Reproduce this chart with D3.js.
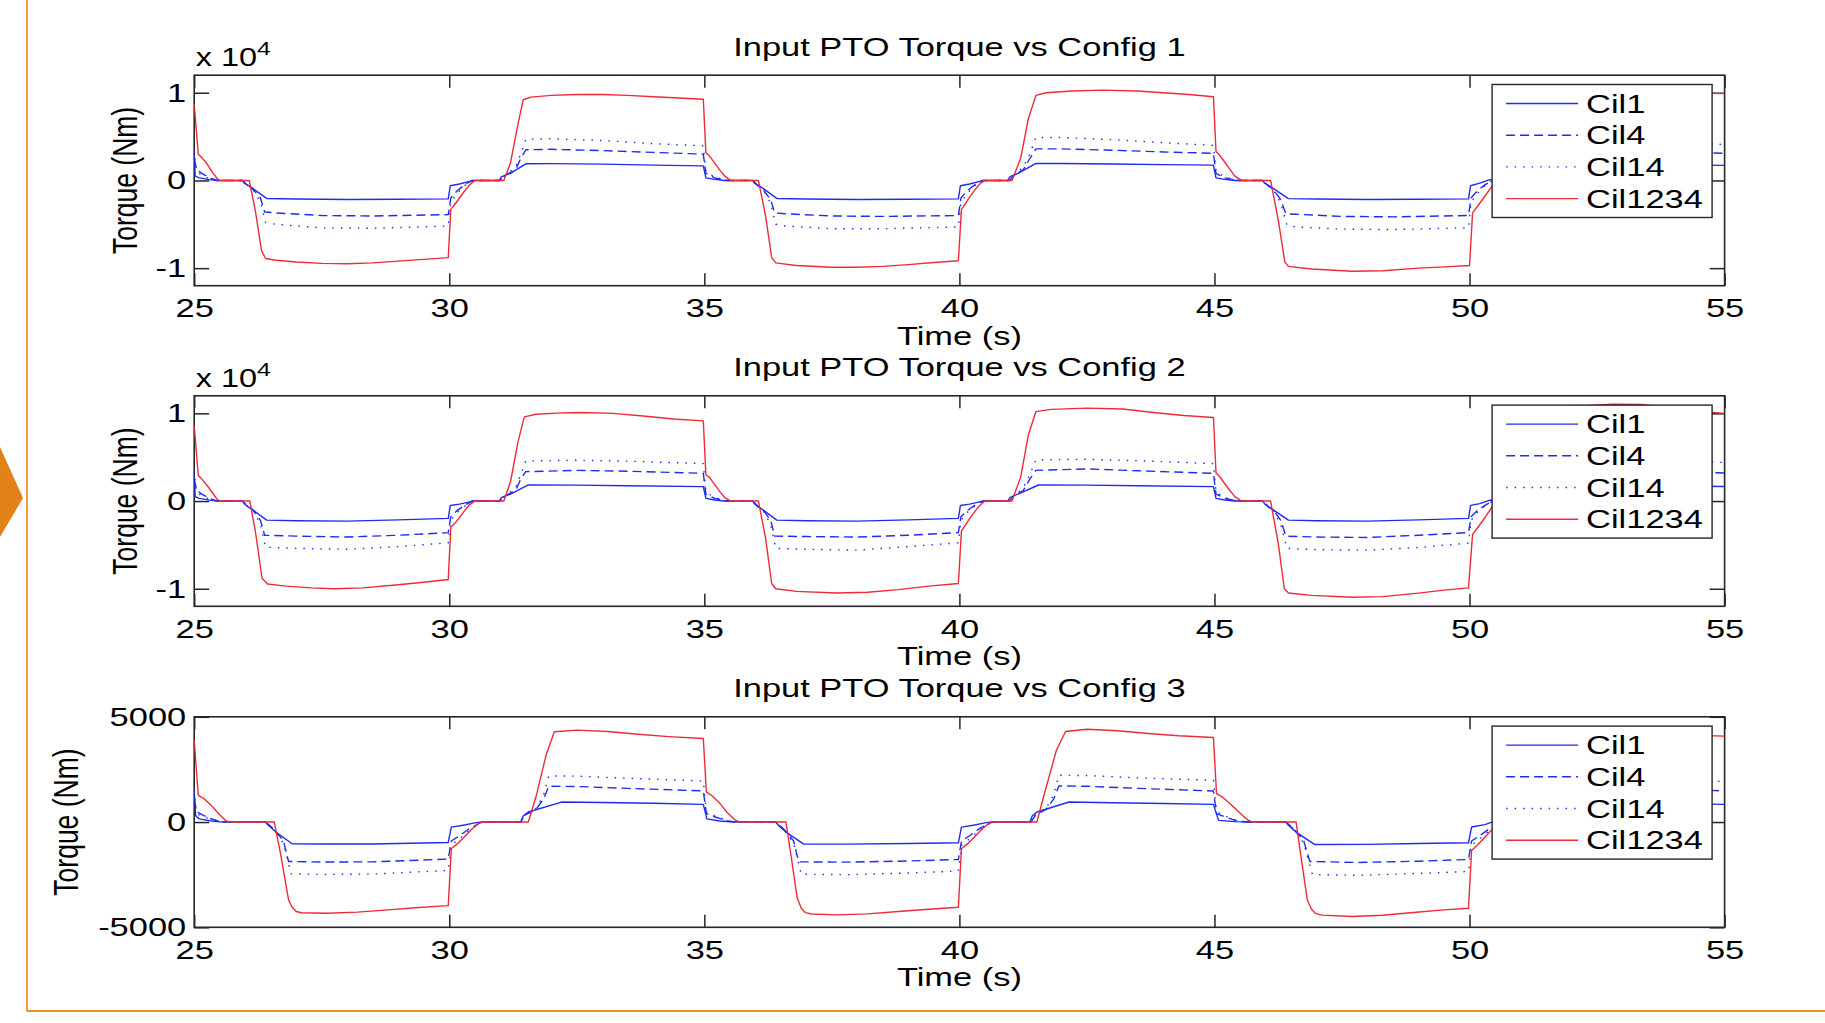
<!DOCTYPE html>
<html lang="en">
<head>
<meta charset="UTF-8">
<title>Input PTO Torque vs Config</title>
<script src="https://cdn.jsdelivr.net/npm/d3@7"></script>
<style>
  html, body { margin: 0; padding: 0; background: #fff; }
  svg { display: block; font-family: "Liberation Sans", Arial, Helvetica, sans-serif; }
</style>
</head>
<body>
<svg id="chart" width="1825" height="1023"></svg>
<script>
// ---- data: [time (s), torque] ----
const xTicks = [25, 30, 35, 40, 45, 50, 55];
const yTicksE4 = [-1, 0, 1];          // x 10^4 Nm
const yTicksNm = [-5000, 0, 5000];
const seriesNames = ["Cil1", "Cil4", "Cil14", "Cil1234"];
const titles = ["Input PTO Torque vs Config 1", "Input PTO Torque vs Config 2", "Input PTO Torque vs Config 3"];

// Config 1 (x 10^4 Nm)
const c1Cil1 = [[25.0,0.30],[25.02,0.05],[25.1,0.03],[25.3,0.01],[25.45,0],[25.95,0],[25.98,-0.03],[26.04,-0.05],[26.1,-0.07],[26.42,-0.205],[27.0,-0.212],[28.0,-0.218],[29.0,-0.215],[29.98,-0.21],[30.02,-0.06],[30.2,-0.04],[30.4,-0.01],[30.5,0],[30.98,0],[31.02,0.04],[31.1,0.06],[31.2,0.08],[31.5,0.19],[32.0,0.192],[33.0,0.186],[34.0,0.175],[34.98,0.166],[35.03,0.03],[35.2,0.012],[35.4,0],[35.95,0],[35.98,-0.03],[36.04,-0.05],[36.1,-0.07],[36.42,-0.205],[37.0,-0.212],[38.0,-0.218],[39.0,-0.215],[39.98,-0.21],[40.02,-0.06],[40.2,-0.04],[40.4,-0.01],[40.5,0],[40.95,0],[40.99,0.04],[41.06,0.06],[41.15,0.08],[41.5,0.194],[42.0,0.194],[43.0,0.187],[44.0,0.18],[44.98,0.175],[45.03,0.03],[45.2,0.012],[45.4,0],[45.95,0],[45.98,-0.03],[46.04,-0.05],[46.1,-0.07],[46.45,-0.207],[47.0,-0.212],[48.0,-0.218],[49.0,-0.215],[49.98,-0.21],[50.02,-0.06],[50.2,-0.03],[50.4,0.01],[50.5,0],[51.0,0],[51.04,0.04],[51.1,0.06],[51.2,0.08],[51.5,0.19],[52.0,0.19],[53.0,0.185],[54.0,0.178],[55.0,0.172]];
const c1Cil4 = [[25.0,0.25],[25.05,0.12],[25.15,0.08],[25.3,0.03],[25.45,0],[25.95,0],[26.05,-0.06],[26.15,-0.1],[26.3,-0.2],[26.38,-0.36],[26.6,-0.37],[27.5,-0.40],[28.5,-0.405],[29.98,-0.39],[30.03,-0.2],[30.15,-0.12],[30.3,-0.05],[30.45,0],[31.0,0],[31.1,0.06],[31.3,0.12],[31.4,0.25],[31.5,0.35],[32.0,0.355],[33.0,0.34],[34.0,0.32],[34.98,0.30],[35.03,0.08],[35.2,0.03],[35.45,0],[35.95,0],[36.05,-0.06],[36.15,-0.1],[36.3,-0.22],[36.38,-0.37],[36.6,-0.38],[37.5,-0.405],[38.5,-0.41],[39.98,-0.40],[40.03,-0.2],[40.15,-0.12],[40.3,-0.05],[40.45,0],[40.98,0],[41.08,0.06],[41.25,0.12],[41.38,0.25],[41.5,0.36],[42.0,0.36],[43.0,0.345],[44.0,0.325],[44.98,0.31],[45.03,0.08],[45.2,0.03],[45.45,0],[45.95,0],[46.05,-0.06],[46.15,-0.1],[46.3,-0.22],[46.4,-0.38],[46.6,-0.385],[47.5,-0.41],[48.5,-0.415],[49.98,-0.40],[50.03,-0.2],[50.15,-0.12],[50.3,-0.05],[50.45,0],[51.0,0],[51.1,0.06],[51.3,0.12],[51.4,0.25],[51.5,0.36],[52.0,0.36],[53.0,0.345],[54.0,0.325],[55.0,0.31]];
const c1Cil14 = [[25.0,0.35],[25.04,0.1],[25.15,0.06],[25.3,0.02],[25.45,0],[25.95,0],[26.05,-0.06],[26.15,-0.1],[26.3,-0.25],[26.4,-0.48],[26.6,-0.50],[27.5,-0.54],[28.5,-0.545],[29.98,-0.52],[30.03,-0.25],[30.15,-0.15],[30.3,-0.06],[30.45,0],[31.0,0],[31.1,0.06],[31.3,0.15],[31.4,0.3],[31.5,0.47],[32.0,0.475],[33.0,0.455],[34.0,0.42],[34.98,0.395],[35.03,0.1],[35.2,0.04],[35.45,0],[35.95,0],[36.05,-0.06],[36.15,-0.1],[36.3,-0.26],[36.4,-0.50],[36.6,-0.52],[37.5,-0.55],[38.5,-0.55],[39.98,-0.53],[40.03,-0.25],[40.15,-0.15],[40.3,-0.06],[40.45,0],[40.98,0],[41.08,0.06],[41.25,0.15],[41.38,0.3],[41.5,0.49],[42.0,0.49],[43.0,0.465],[44.0,0.43],[44.98,0.40],[45.03,0.1],[45.2,0.04],[45.45,0],[45.95,0],[46.05,-0.06],[46.15,-0.1],[46.3,-0.26],[46.42,-0.51],[46.6,-0.53],[47.5,-0.555],[48.5,-0.56],[49.98,-0.54],[50.03,-0.25],[50.15,-0.15],[50.3,-0.06],[50.45,0],[51.0,0],[51.1,0.06],[51.3,0.15],[51.4,0.3],[51.5,0.48],[52.0,0.48],[53.0,0.46],[54.0,0.43],[55.0,0.41]];
const c1Cil1234 = [[25.0,0.87],[25.08,0.30],[25.15,0.26],[25.25,0.19],[25.35,0.10],[25.45,0.02],[25.5,0],[26.08,0],[26.2,-0.35],[26.32,-0.80],[26.4,-0.89],[26.6,-0.91],[27.0,-0.93],[27.5,-0.945],[28.0,-0.95],[28.5,-0.94],[29.0,-0.92],[29.5,-0.90],[29.98,-0.88],[30.03,-0.33],[30.1,-0.28],[30.2,-0.20],[30.3,-0.12],[30.4,-0.05],[30.5,0],[31.07,0],[31.2,0.2],[31.35,0.65],[31.45,0.92],[31.6,0.95],[32.0,0.97],[32.5,0.98],[33.0,0.98],[33.5,0.97],[34.0,0.955],[34.5,0.94],[34.98,0.925],[35.03,0.32],[35.1,0.28],[35.2,0.20],[35.3,0.12],[35.4,0.05],[35.52,0],[36.06,0],[36.2,-0.40],[36.32,-0.88],[36.4,-0.94],[36.8,-0.97],[37.5,-0.99],[38.0,-0.99],[38.5,-0.98],[39.0,-0.96],[39.5,-0.935],[39.98,-0.915],[40.04,-0.33],[40.1,-0.28],[40.2,-0.19],[40.3,-0.11],[40.4,-0.04],[40.5,0],[41.03,0],[41.2,0.25],[41.35,0.7],[41.5,0.97],[41.7,1.0],[42.2,1.02],[42.8,1.03],[43.5,1.02],[44.0,1.0],[44.5,0.98],[44.98,0.955],[45.03,0.33],[45.1,0.29],[45.2,0.21],[45.3,0.13],[45.4,0.05],[45.53,0],[46.1,0],[46.25,-0.45],[46.38,-0.93],[46.45,-0.98],[46.9,-1.01],[47.7,-1.035],[48.3,-1.03],[49.0,-1.0],[49.5,-0.985],[50.0,-0.97],[50.06,-0.37],[50.15,-0.30],[50.3,-0.18],[50.45,-0.06],[50.6,0],[51.1,0],[51.25,0.3],[51.4,0.8],[51.5,0.97],[51.8,1.0],[52.8,1.03],[53.5,1.02],[54.2,1.0],[55.0,0.99]];

// Config 2 (x 10^4 Nm)
const c2Cil1 = [[25.0,0.30],[25.02,0.05],[25.1,0.03],[25.3,0.01],[25.45,0],[25.95,0],[25.98,-0.03],[26.04,-0.06],[26.1,-0.08],[26.42,-0.217],[27.0,-0.225],[28.0,-0.229],[29.0,-0.215],[29.98,-0.198],[30.02,-0.05],[30.2,-0.035],[30.4,-0.01],[30.5,0],[30.98,0],[31.02,0.04],[31.1,0.06],[31.2,0.08],[31.55,0.183],[32.5,0.182],[33.5,0.175],[34.98,0.164],[35.03,0.03],[35.2,0.012],[35.4,0],[35.95,0],[35.98,-0.03],[36.04,-0.06],[36.1,-0.08],[36.42,-0.217],[37.0,-0.225],[38.0,-0.229],[39.0,-0.215],[39.98,-0.198],[40.02,-0.05],[40.2,-0.035],[40.4,-0.01],[40.5,0],[40.95,0],[40.99,0.04],[41.06,0.06],[41.15,0.08],[41.55,0.183],[42.5,0.182],[43.5,0.175],[44.98,0.164],[45.03,0.03],[45.2,0.012],[45.4,0],[45.95,0],[45.98,-0.03],[46.04,-0.06],[46.1,-0.08],[46.45,-0.217],[47.0,-0.225],[48.0,-0.229],[49.0,-0.215],[49.98,-0.198],[50.02,-0.05],[50.2,-0.03],[50.4,0.01],[50.5,0],[51.0,0],[51.04,0.04],[51.1,0.06],[51.2,0.08],[51.55,0.183],[52.5,0.182],[53.5,0.175],[55.0,0.166]];
const c2Cil4 = [[25.0,0.25],[25.05,0.12],[25.15,0.08],[25.3,0.03],[25.45,0],[25.95,0],[26.05,-0.06],[26.15,-0.1],[26.3,-0.22],[26.38,-0.39],[27.0,-0.40],[28.0,-0.41],[29.0,-0.39],[29.98,-0.36],[30.03,-0.18],[30.15,-0.11],[30.3,-0.05],[30.45,0],[31.0,0],[31.1,0.06],[31.3,0.12],[31.4,0.25],[31.5,0.335],[32.5,0.35],[33.5,0.34],[34.98,0.316],[35.03,0.08],[35.2,0.03],[35.45,0],[35.95,0],[36.05,-0.06],[36.15,-0.1],[36.3,-0.22],[36.38,-0.40],[37.0,-0.405],[38.0,-0.41],[39.0,-0.39],[39.98,-0.36],[40.03,-0.18],[40.15,-0.11],[40.3,-0.05],[40.45,0],[40.98,0],[41.08,0.06],[41.25,0.12],[41.38,0.25],[41.5,0.35],[42.5,0.366],[43.5,0.345],[44.98,0.316],[45.03,0.08],[45.2,0.03],[45.45,0],[45.95,0],[46.05,-0.06],[46.15,-0.1],[46.3,-0.22],[46.4,-0.40],[47.0,-0.41],[48.0,-0.415],[49.0,-0.39],[49.98,-0.36],[50.03,-0.18],[50.15,-0.11],[50.3,-0.05],[50.45,0],[51.0,0],[51.1,0.06],[51.3,0.12],[51.4,0.25],[51.5,0.35],[52.5,0.366],[53.5,0.345],[55.0,0.32]];
const c2Cil14 = [[25.0,0.35],[25.04,0.1],[25.15,0.06],[25.3,0.02],[25.45,0],[25.95,0],[26.05,-0.06],[26.15,-0.1],[26.3,-0.27],[26.4,-0.526],[27.0,-0.54],[28.0,-0.55],[29.0,-0.52],[29.98,-0.476],[30.03,-0.22],[30.15,-0.13],[30.3,-0.06],[30.45,0],[31.0,0],[31.1,0.06],[31.3,0.15],[31.4,0.3],[31.5,0.457],[32.5,0.465],[33.5,0.455],[34.98,0.427],[35.03,0.1],[35.2,0.04],[35.45,0],[35.95,0],[36.05,-0.06],[36.15,-0.1],[36.3,-0.27],[36.4,-0.54],[37.0,-0.55],[38.0,-0.56],[39.0,-0.52],[39.98,-0.476],[40.03,-0.22],[40.15,-0.13],[40.3,-0.06],[40.45,0],[40.98,0],[41.08,0.06],[41.25,0.15],[41.38,0.3],[41.5,0.47],[42.5,0.476],[43.5,0.46],[44.98,0.427],[45.03,0.1],[45.2,0.04],[45.45,0],[45.95,0],[46.05,-0.06],[46.15,-0.1],[46.3,-0.27],[46.42,-0.54],[47.0,-0.555],[48.0,-0.56],[49.0,-0.53],[49.98,-0.48],[50.03,-0.22],[50.15,-0.13],[50.3,-0.06],[50.45,0],[51.0,0],[51.1,0.06],[51.3,0.15],[51.4,0.3],[51.5,0.47],[52.5,0.476],[53.5,0.46],[55.0,0.44]];
const c2Cil1234 = [[25.0,0.86],[25.08,0.29],[25.15,0.25],[25.25,0.18],[25.35,0.10],[25.45,0.02],[25.5,0],[26.09,0],[26.2,-0.35],[26.33,-0.88],[26.44,-0.945],[26.8,-0.97],[27.3,-0.99],[27.75,-1.0],[28.3,-0.99],[29.0,-0.955],[29.5,-0.925],[29.98,-0.895],[30.03,-0.30],[30.1,-0.26],[30.2,-0.19],[30.3,-0.11],[30.4,-0.04],[30.5,0],[31.07,0],[31.2,0.22],[31.35,0.68],[31.47,0.96],[31.7,0.99],[32.2,1.005],[32.6,1.01],[33.2,1.0],[33.8,0.97],[34.4,0.935],[34.98,0.914],[35.03,0.30],[35.1,0.27],[35.2,0.19],[35.3,0.11],[35.4,0.04],[35.52,0],[36.06,0],[36.2,-0.42],[36.32,-0.94],[36.4,-1.0],[36.8,-1.03],[37.6,-1.048],[38.2,-1.04],[38.8,-1.01],[39.4,-0.97],[39.98,-0.94],[40.04,-0.34],[40.1,-0.29],[40.2,-0.2],[40.3,-0.12],[40.4,-0.05],[40.5,0],[41.03,0],[41.2,0.27],[41.35,0.75],[41.5,1.02],[41.8,1.045],[42.5,1.06],[43.2,1.05],[43.8,1.01],[44.4,0.975],[44.98,0.952],[45.03,0.32],[45.1,0.28],[45.2,0.2],[45.3,0.12],[45.4,0.05],[45.53,0],[46.1,0],[46.25,-0.48],[46.37,-1.0],[46.45,-1.048],[46.9,-1.075],[47.7,-1.097],[48.3,-1.09],[49.0,-1.05],[49.5,-1.015],[49.98,-0.99],[50.06,-0.38],[50.15,-0.31],[50.3,-0.19],[50.45,-0.06],[50.6,0],[51.1,0],[51.25,0.3],[51.4,0.85],[51.5,1.04],[52.0,1.08],[52.8,1.105],[53.4,1.1],[54.2,1.04],[55.0,1.0]];

// Config 3 (Nm)
const c3Cil1 = [[25.0,1430],[25.03,300],[25.1,150],[25.3,60],[25.5,10],[25.6,0],[26.4,0],[26.45,-150],[26.5,-250],[26.6,-476],[26.92,-1030],[27.5,-1045],[28.5,-1040],[29.98,-970],[30.04,-240],[30.3,-140],[30.5,-40],[30.64,0],[31.4,0],[31.45,300],[31.55,476],[32.2,950],[33.0,930],[34.0,890],[34.98,840],[35.05,150],[35.3,50],[35.6,0],[36.4,0],[36.45,-150],[36.52,-300],[36.6,-476],[36.95,-1048],[37.8,-1050],[39.0,-1020],[39.98,-984],[40.04,-240],[40.3,-140],[40.5,-40],[40.64,0],[41.38,0],[41.43,300],[41.52,476],[42.15,952],[43.0,920],[44.0,880],[44.98,841],[45.08,80],[45.4,20],[45.7,0],[46.4,0],[46.45,-150],[46.52,-300],[46.6,-476],[46.96,-1063],[48.0,-1060],[49.0,-1020],[49.98,-984],[50.04,-238],[50.3,-120],[50.44,0],[51.4,0],[51.45,300],[51.55,476],[52.2,950],[53.0,920],[54.0,880],[55.0,840]];
const c3Cil4 = [[25.0,1100],[25.05,500],[25.15,350],[25.3,180],[25.5,30],[25.6,0],[26.4,0],[26.5,-200],[26.6,-450],[26.75,-900],[26.85,-1873],[27.5,-1900],[28.5,-1890],[29.98,-1760],[30.04,-900],[30.2,-650],[30.4,-300],[30.64,0],[31.4,0],[31.5,350],[31.7,600],[31.85,1100],[31.95,1700],[32.5,1690],[33.5,1600],[34.98,1480],[35.04,400],[35.2,250],[35.45,50],[35.6,0],[36.4,0],[36.5,-200],[36.6,-450],[36.75,-900],[36.85,-1890],[37.8,-1905],[39.0,-1850],[39.98,-1778],[40.04,-900],[40.2,-650],[40.4,-300],[40.64,0],[41.4,0],[41.5,350],[41.7,600],[41.85,1100],[41.95,1714],[42.5,1700],[43.5,1600],[44.98,1476],[45.04,400],[45.2,250],[45.45,50],[45.65,0],[46.4,0],[46.5,-200],[46.6,-450],[46.75,-900],[46.87,-1873],[47.8,-1920],[49.0,-1860],[49.98,-1778],[50.04,-900],[50.2,-650],[50.4,-300],[50.64,0],[51.4,0],[51.5,350],[51.7,600],[51.85,1100],[51.95,1714],[52.5,1700],[53.5,1600],[55.0,1480]];
const c3Cil14 = [[25.0,1500],[25.04,400],[25.15,280],[25.3,150],[25.5,25],[25.6,0],[26.4,0],[26.5,-200],[26.6,-480],[26.75,-1000],[26.9,-2460],[27.5,-2490],[28.5,-2470],[29.98,-2300],[30.04,-1100],[30.2,-800],[30.4,-380],[30.64,0],[31.4,0],[31.5,380],[31.7,650],[31.85,1300],[31.95,2190],[32.5,2180],[33.5,2080],[34.98,1950],[35.04,500],[35.2,300],[35.45,60],[35.6,0],[36.4,0],[36.5,-200],[36.6,-480],[36.75,-1000],[36.9,-2480],[37.8,-2500],[39.0,-2420],[39.98,-2330],[40.04,-1100],[40.2,-800],[40.4,-380],[40.64,0],[41.4,0],[41.5,380],[41.7,650],[41.85,1300],[41.95,2222],[42.5,2210],[43.5,2100],[44.98,1984],[45.04,500],[45.2,300],[45.45,60],[45.65,0],[46.4,0],[46.5,-200],[46.6,-480],[46.75,-1000],[46.92,-2492],[47.8,-2530],[49.0,-2440],[49.98,-2350],[50.04,-1100],[50.2,-800],[50.4,-380],[50.64,0],[51.4,0],[51.5,380],[51.7,650],[51.85,1300],[51.95,2200],[52.5,2190],[53.5,2080],[55.0,1920]];
const c3Cil1234 = [[25.0,3900],[25.08,1270],[25.2,1100],[25.35,750],[25.5,350],[25.62,60],[25.7,0],[26.57,0],[26.7,-1600],[26.85,-3700],[26.92,-4050],[27.0,-4250],[27.1,-4310],[27.6,-4330],[28.2,-4280],[28.8,-4170],[29.4,-4060],[29.98,-3970],[30.04,-1270],[30.15,-1050],[30.3,-700],[30.45,-320],[30.58,-60],[30.64,0],[31.55,0],[31.7,1200],[31.9,3200],[32.06,4290],[32.5,4365],[33.1,4300],[33.7,4170],[34.3,4060],[34.98,3970],[35.04,1430],[35.15,1250],[35.3,900],[35.45,450],[35.6,100],[35.7,0],[36.6,0],[36.7,-1600],[36.82,-3600],[36.9,-4100],[36.98,-4300],[37.1,-4370],[37.6,-4410],[38.2,-4360],[38.8,-4250],[39.4,-4140],[39.98,-4050],[40.04,-1270],[40.15,-1050],[40.3,-700],[40.45,-320],[40.58,-60],[40.64,0],[41.52,0],[41.65,1200],[41.9,3400],[42.08,4300],[42.5,4410],[43.1,4340],[43.7,4210],[44.3,4100],[44.98,4016],[45.04,1350],[45.15,1200],[45.3,880],[45.5,430],[45.65,100],[45.75,0],[46.6,0],[46.7,-1700],[46.82,-3700],[46.9,-4127],[46.98,-4340],[47.1,-4420],[47.7,-4490],[48.3,-4430],[48.9,-4300],[49.5,-4170],[49.98,-4095],[50.04,-1350],[50.15,-1100],[50.3,-720],[50.45,-330],[50.6,-60],[50.66,0],[51.55,0],[51.7,1200],[51.95,3400],[52.1,4300],[52.5,4400],[53.1,4330],[53.8,4200],[54.4,4120],[55.0,4080]];

// ---- layout ----
const SX = 1.3;          // the source figure is stretched sideways
const FS = 26.5;
const plotLeft = 194.2, plotRight = 1724.6, plotH = 210.5;
const blue = "#1f2cf0", red = "#ee2b36", axisColor = "#262626";
const styles = [
  { color: blue, dash: null },
  { color: blue, dash: "9,5" },
  { color: blue, dash: "1.5,7" },
  { color: red, dash: null }
];

const panels = [
  { title: titles[0], top: 75.2, domain: [-1.2, 1.2], ticks: yTicksE4, exp: true, ylabX: 137, series: [c1Cil1, c1Cil4, c1Cil14, c1Cil1234] },
  { title: titles[1], top: 395.8, domain: [-1.2, 1.2], ticks: yTicksE4, exp: true, ylabX: 137, series: [c2Cil1, c2Cil4, c2Cil14, c2Cil1234] },
  { title: titles[2], top: 716.8, domain: [-5000, 5000], ticks: yTicksNm, exp: false, ylabX: 78, series: [c3Cil1, c3Cil4, c3Cil14, c3Cil1234] }
];

const svg = d3.select("#chart");

// slide decorations
svg.append("line").attr("x1", 27).attr("x2", 27).attr("y1", 0).attr("y2", 1011)
  .attr("stroke", "#ef9a3c").attr("stroke-width", 2);
svg.append("line").attr("x1", 27).attr("x2", 1825).attr("y1", 1011).attr("y2", 1011)
  .attr("stroke", "#ea8d24").attr("stroke-width", 2);
svg.append("polygon").attr("points", "0,447 23,498 0,537").attr("fill", "#e2821a");

const x = d3.scaleLinear().domain([25, 55]).range([plotLeft, plotRight]);

function stretchText(sel, px, py) {
  return sel.attr("transform", `translate(${px},${py}) scale(${SX},1)`);
}

panels.forEach((p, i) => {
  const bottom = p.top + plotH;
  const y = d3.scaleLinear().domain(p.domain).range([bottom, p.top]);
  const g = svg.append("g");

  // inward ticks on all four sides
  const bx = g.append("g").attr("transform", `translate(0,${bottom})`)
    .call(d3.axisBottom(x).tickValues(xTicks).tickSizeInner(-12.5).tickSizeOuter(0).tickPadding(12.6));
  g.append("g").attr("transform", `translate(0,${p.top})`)
    .call(d3.axisTop(x).tickValues(xTicks).tickSizeInner(-12.5).tickSizeOuter(0).tickFormat(""));
  const ly = g.append("g").attr("transform", `translate(${plotLeft},0)`)
    .call(d3.axisLeft(y).tickValues(p.ticks).tickSizeInner(-15).tickSizeOuter(0).tickPadding(8 / SX).tickFormat(d => String(d)));
  g.append("g").attr("transform", `translate(${plotRight},0)`)
    .call(d3.axisRight(y).tickValues(p.ticks).tickSizeInner(-15).tickSizeOuter(0).tickFormat(""));

  g.selectAll(".domain").remove();
  g.selectAll(".tick line").attr("stroke", axisColor).attr("stroke-width", 1.5);
  [bx, ly].forEach(a => a.selectAll("text")
    .attr("fill", "#000").attr("font-size", FS).attr("font-family", null)
    .attr("transform", `scale(${SX},1)`));

  // frame
  g.append("rect").attr("x", plotLeft).attr("y", p.top)
    .attr("width", plotRight - plotLeft).attr("height", plotH)
    .attr("fill", "none").attr("stroke", axisColor).attr("stroke-width", 1.6);

  // lines
  const clipId = "clip" + i;
  g.append("clipPath").attr("id", clipId).append("rect")
    .attr("x", plotLeft).attr("y", p.top).attr("width", plotRight - plotLeft).attr("height", plotH);
  const line = d3.line().x(d => x(d[0])).y(d => y(d[1]));
  const lg = g.append("g").attr("clip-path", `url(#${clipId})`);
  p.series.forEach((s, k) => {
    lg.append("path").datum(s).attr("d", line)
      .attr("fill", "none").attr("stroke", styles[k].color)
      .attr("stroke-width", 1.4).attr("stroke-linejoin", "round")
      .attr("stroke-dasharray", styles[k].dash);
  });

  // title, labels
  stretchText(g.append("text"), (plotLeft + plotRight) / 2, p.top - 19.5)
    .attr("text-anchor", "middle").attr("font-size", FS).text(p.title);
  stretchText(g.append("text"), (plotLeft + plotRight) / 2, bottom + 59)
    .attr("text-anchor", "middle").attr("font-size", FS).text("Time (s)");
  g.append("text")
    .attr("transform", `translate(${p.ylabX},${(p.top + bottom) / 2}) rotate(-90) scale(1,${SX})`)
    .attr("text-anchor", "middle").attr("font-size", FS).text("Torque (Nm)");

  if (p.exp) {
    const t = stretchText(g.append("text"), plotLeft + 1.5, p.top - 9.3).attr("font-size", 25);
    t.append("tspan").text("x 10");
    t.append("tspan").attr("font-size", 19).attr("dy", -10.6).text("4");
  }

  // legend
  const lw = 220, lh = 133;
  const lx = plotRight - 12.5 - lw, lyTop = p.top + 9.3;
  const leg = g.append("g").attr("transform", `translate(${lx},${lyTop})`);
  leg.append("rect").attr("width", lw).attr("height", lh)
    .attr("fill", "#fff").attr("stroke", axisColor).attr("stroke-width", 1.4);
  seriesNames.forEach((name, k) => {
    const ry = 19 + k * 31.7;
    leg.append("line").attr("x1", 14).attr("x2", 86).attr("y1", ry).attr("y2", ry)
      .attr("stroke", styles[k].color).attr("stroke-width", 1.4)
      .attr("stroke-dasharray", styles[k].dash);
    stretchText(leg.append("text"), 94, ry + 9.2).attr("font-size", FS).text(name);
  });
});
</script>
</body>
</html>
